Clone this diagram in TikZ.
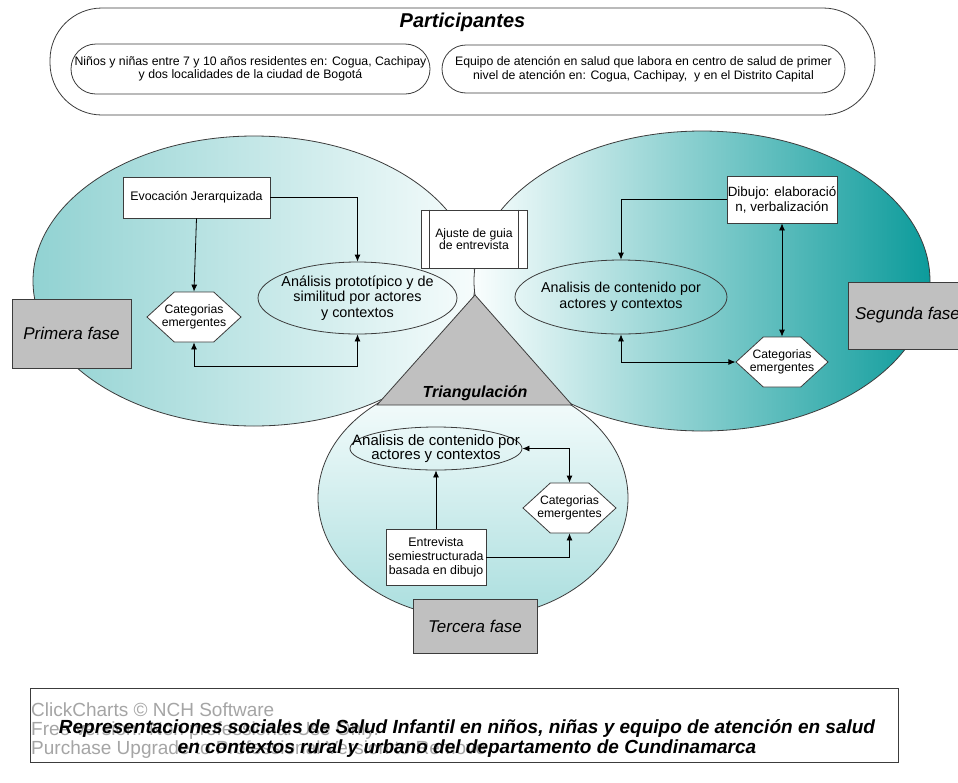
\documentclass[tikz,border=0pt]{standalone}
\usepackage{fontspec}
\usepackage{graphicx}
\setmainfont{Liberation Sans}
\usetikzlibrary{arrows.meta,shapes.geometric,shapes.symbols}
\newcommand\setfs[2]{\fontsize{#1}{#2}\selectfont}

\definecolor{edge}{RGB}{60,60,60}
\definecolor{phasegray}{RGB}{192,192,192}
\definecolor{wmgray}{RGB}{165,165,165}
\definecolor{leftA}{RGB}{145,210,210}
\definecolor{leftB}{RGB}{246,252,252}
\definecolor{rightA}{RGB}{250,254,254}
\definecolor{rightB}{RGB}{12,155,155}
\definecolor{lowA}{RGB}{250,254,254}
\definecolor{lowB}{RGB}{170,222,222}

\begin{document}
\begin{tikzpicture}[x=1pt,y=-1pt,
  line/.style={draw=black, line width=0.8pt},
  arr/.style={line, -{Latex[length=7pt,width=6pt]}},
  darr/.style={line, {Latex[length=7pt,width=6pt]}-{Latex[length=7pt,width=6pt]}},
  box/.style={draw=edge, fill=white, line width=0.8pt, inner sep=0pt, align=center},
  hexa/.style={draw=edge, fill=white, line width=0.8pt, shape=signal,
    signal to=east and west, signal pointer angle=85, inner sep=0pt,
    minimum width=94, minimum height=50},
  hexatext/.style={align=center, inner sep=0pt, font=\setfs{12.2}{13.5}},
  oval/.style={draw=edge, fill=white, fill opacity=0, line width=0.8pt, ellipse, inner sep=0pt},
  phase/.style={draw=edge, fill=phasegray, line width=0.8pt, inner sep=0pt,
    font=\setfs{17}{20}\itshape},
  region/.style={draw=edge, line width=0.8pt},
]
\useasboundingbox (0,0) rectangle (958,782);
\clip (0,0) rectangle (958,782);
\fill[white] (0,0) rectangle (958,782);

% ---- participants ----
\node[draw=edge, line width=0.8pt, rounded corners=52, minimum width=825, minimum height=107, inner sep=0pt] (part) at (462.5,61.5) {};
\node[font=\setfs{20}{22}\bfseries\itshape, inner sep=0pt] (partT) at (462.5,22) {Participantes};
\node[draw=edge, line width=0.8pt, rounded corners=25, minimum width=359, minimum height=50, inner sep=0pt, align=center, font=\setfs{12.3}{13.5}] (kids) at (250.5,69)
  {Niños y niñas entre 7 y 10 años residentes en: Cogua, Cachipay\\y dos localidades de la ciudad de Bogotá};
\node[draw=edge, line width=0.8pt, rounded corners=24, minimum width=403, minimum height=48, inner sep=0pt, align=center, font=\setfs{12.3}{13.5}] (staff) at (643.5,69)
  {Equipo de atención en salud que labora en centro de salud de primer\\nivel de atención en: Cogua, Cachipay,\ \ y en el Distrito Capital};

% ---- the three phase regions ----
\draw[region, left color=leftA, right color=leftB] (254,281) ellipse [x radius=221, y radius=145];
\draw[region, left color=rightA, right color=rightB] (702,281) ellipse [x radius=228, y radius=150];
\draw[region, top color=lowA, bottom color=lowB] (473,498) ellipse [x radius=155, y radius=120];

% ---- triangulation ----
\draw[edge, line width=0.8pt, fill=phasegray] (475,295) -- (572,405) -- (377,405) -- cycle;
\node[font=\setfs{16}{18}\bfseries\itshape, inner sep=0pt] (tri) at (475,393) {Triangulación};

\node[box, minimum width=106, minimum height=58, font=\setfs{12.2}{12.5}] (ajuste) at (474,239) {Ajuste de guia\\de entrevista};
\draw[edge, line width=0.8pt] ([xshift=9pt]ajuste.north west) -- ([xshift=9pt]ajuste.south west);
\draw[edge, line width=0.8pt] ([xshift=-9pt]ajuste.north east) -- ([xshift=-9pt]ajuste.south east);

% ---- phase labels ----
\node[phase, minimum width=119, minimum height=69] (f1) at (71.5,333.5) {Primera fase};
\node[phase, minimum width=119, minimum height=67] (f2) at (907.5,315.5) {Segunda fase};
\node[phase, minimum width=124, minimum height=54] (f3) at (475,626) {Tercera fase};

% ---- first phase ----
\node[box, minimum width=147, minimum height=41, font=\setfs{12.4}{14}] (evoc) at (196.5,197.5) {Evocación Jerarquizada};
\node[hexa] (cat1) at (194,317) {};
\node[hexatext] (cat1T) at (cat1.center) {Categorias\\emergentes};
\node[oval, minimum width=199, minimum height=72] (proto) at (357.5,298) {};
\node[align=center, inner sep=0pt, font=\setfs{14.4}{15.5}] (protoT) at (proto.center) {Análisis prototípico y de\\similitud por actores\\y contextos};

\draw[arr] (evoc.south) -- (cat1.north);
\draw[arr] (evoc.east) -| (proto.north);
\draw[darr] (cat1.south) -- ++(0,24) -| (proto.south);

% ---- second phase ----
\node[box, minimum width=110, minimum height=47, font=\setfs{13.4}{15}] (dib) at (782,199.5) {Dibujo: elaboració\\n, verbalización};
\node[oval, minimum width=212, minimum height=74] (anr) at (621,297) {};
\node[align=center, inner sep=0pt, font=\setfs{14.3}{16}] (anrT) at (anr.center) {Analisis de contenido por\\actores y contextos};
\node[hexa, minimum width=92] (cat2) at (782,362) {};
\node[hexatext] (cat2T) at (cat2.center) {Categorias\\emergentes};

\draw[arr] (dib.west) -| (anr.north);
\draw[darr] (dib.south) -- (cat2.north);
\draw[darr] (anr.south) |- (cat2.west);

% ---- third phase ----
\node[oval, minimum width=172, minimum height=43] (anb) at (436,448.5) {};
\node[align=center, inner sep=0pt, font=\setfs{15}{14}] (anbT) at (anb.center) {Analisis de contenido por\\actores y contextos};
\node[hexa, minimum width=93] (cat3) at (569.5,508) {};
\node[hexatext] (cat3T) at (cat3.center) {Categorias\\emergentes};
\node[box, minimum width=100, minimum height=56, font=\setfs{12.4}{14}] (ent) at (436,557) {Entrevista\\semiestructurada\\basada en dibujo};

\draw[arr] (ent.north) -- (anb.south);
\draw[arr] (ent.east) -| (cat3.south);
\draw[darr] (anb.east) -| (cat3.north);

% ---- title ----
\node[draw=edge, line width=0.8pt, minimum width=868, minimum height=74, inner sep=0pt] (titlebox) at (464,725) {};
\node[anchor=west, align=left, inner sep=0pt, text=wmgray, font=\setfs{19}{19}] (wm) at (31,731)
  {ClickCharts © NCH Software\\Free version. Non professional Use Only.\\Purchase Upgrade to Professional Version to Remove.};
\node[align=center, inner sep=0pt, font=\setfs{19}{19.5}\bfseries\itshape] (titleT) at (467,738.5)
  {Representaciones sociales de Salud Infantil en niños, niñas y equipo de atención en salud\\en contextos rural y urbano del departamento de Cundinamarca};
\end{tikzpicture}
\end{document}
